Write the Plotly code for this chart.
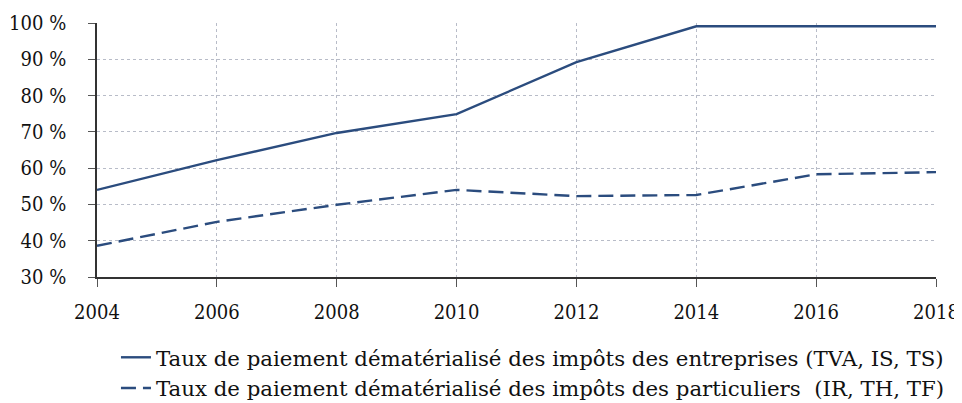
import plotly.graph_objects as go

annees = [2004, 2006, 2008, 2010, 2012, 2014, 2016, 2018]
entreprises = [54.0, 62.2, 69.7, 74.9, 89.2, 99.1, 99.1, 99.1]
particuliers = [38.6, 45.2, 49.9, 54.0, 52.3, 52.6, 58.3, 58.9]

y_ticks = [30, 40, 50, 60, 70, 80, 90, 100]
y_labels = [f"{v} %" for v in y_ticks]

couleur = '#2b4c7e'
police = 'DejaVu Serif Condensed, Liberation Serif, serif'

fig = go.Figure()

fig.add_trace(go.Scatter(
    x=annees, y=entreprises, mode='lines',
    name='Taux de paiement dématérialisé des impôts des entreprises (TVA, IS, TS)',
    line=dict(color=couleur, width=2.4)
))
fig.add_trace(go.Scatter(
    x=annees, y=particuliers, mode='lines',
    name='Taux de paiement dématérialisé des impôts des particuliers  (IR, TH, TF)',
    line=dict(color=couleur, width=2.4, dash='15px,7px')
))

# la page ajoute une marge de 8 px ; la figure est plus haute que la fenêtre
# pour que la légende ne réduise pas la zone de tracé
fig.update_layout(
    width=954, height=420,
    margin=dict(l=89, r=26, t=15, b=151),
    plot_bgcolor='white', paper_bgcolor='white',
    font=dict(family=police, size=20, color='#111111'),
    showlegend=True,
    legend=dict(
        x=0.0226, xanchor='left', y=-0.236, yanchor='top',
        orientation='v', font=dict(family='DejaVu Serif', size=21.3), tracegroupgap=0,
        bgcolor='rgba(0,0,0,0)'
    )
)

fig.update_xaxes(
    range=[2004, 2018], tickvals=annees,
    showgrid=True, gridcolor='#b8bcc8', griddash='dot', gridwidth=1,
    showline=True, linecolor='#333333', linewidth=1.5,
    ticks='outside', ticklen=8, tickcolor='#555555',
    ticklabelstandoff=8, automargin=False,
    zeroline=False
)
fig.update_yaxes(
    range=[30, 100], tickvals=y_ticks, ticktext=y_labels,
    showgrid=True, gridcolor='#b8bcc8', griddash='dot', gridwidth=1,
    showline=True, linecolor='#333333', linewidth=1.5,
    ticks='outside', ticklen=7, tickcolor='#555555',
    ticklabelstandoff=18, automargin=False,
    zeroline=False
)

fig.write_html("out.html")
